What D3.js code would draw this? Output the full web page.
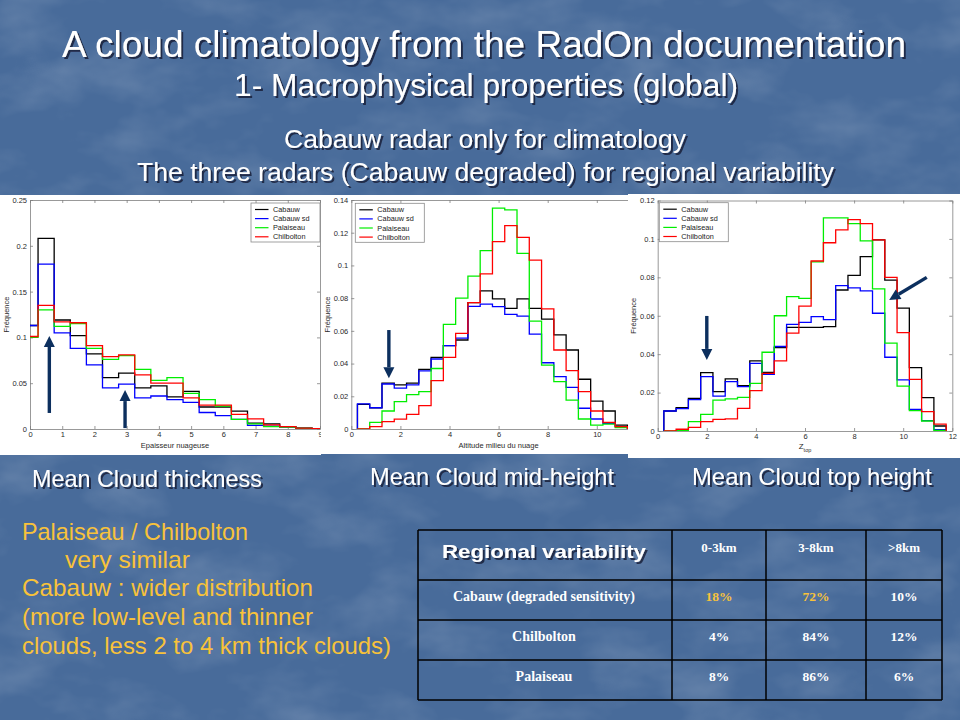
<!DOCTYPE html>
<html><head><meta charset="utf-8">
<script src="https://d3js.org/d3.v7.min.js"></script>
<style>html,body{margin:0;padding:0;background:#496b99;overflow:hidden}svg{display:block}</style>
</head><body>
<svg id="slide" width="960" height="720"></svg>
<script>
// ---------------- DATA ----------------
const seriesNames = ["Cabauw", "Cabauw sd", "Palaiseau", "Chilbolton"];
const seriesColors = ["#000000", "#0000ff", "#00ee00", "#ff0000"];

// Panel 1 : cloud thickness
const thicknessBins = [0, 0.5, 1, 1.5, 2, 2.5, 3, 3.5, 4, 4.5, 5, 5.5, 6, 6.5, 7, 7.5, 8, 8.5, 9];
const thicknessCabauw   = [0.113, 0.208, 0.119, 0.102, 0.082, 0.056, 0.061, 0.045, 0.047, 0.035, 0.041, 0.024, 0.024, 0.0196, 0.0065, 0.0055, 0.0025, 0.001, 0.0005];
const thicknessCabauwSd = [0.113, 0.180, 0.105, 0.088, 0.070, 0.045, 0.049, 0.034, 0.036, 0.032, 0.029, 0.018, 0.0146, 0.0106, 0.004, 0.003, 0.002, 0.001, 0.0005];
const thicknessPalaiseau= [0.100, 0.130, 0.112, 0.115, 0.088, 0.076, 0.080, 0.065, 0.053, 0.056, 0.039, 0.032, 0.025, 0.0106, 0.0055, 0.0025, 0.002, 0.001, 0.0005];
const thicknessChilbolton=[0.101, 0.135, 0.117, 0.116, 0.091, 0.079, 0.081, 0.059, 0.050, 0.050, 0.034, 0.026, 0.026, 0.016, 0.011, 0.0045, 0.0025, 0.001, 0.0005];
const thicknessXTicks = [0, 1, 2, 3, 4, 5, 6, 7, 8, 9];
const thicknessYTicks = [0, 0.05, 0.1, 0.15, 0.2, 0.25];
const thicknessYLabels = ["0", "0.05", "0.1", "0.15", "0.2", "0.25"];

// Panel 2 : cloud mid-height
const midBins = [0.5, 1, 1.5, 2, 2.5, 3, 3.5, 4, 4.5, 5, 5.5, 6, 6.5, 7, 7.5, 8, 8.5, 9, 9.5, 10, 10.5, 11];
const midCabauw    = [0.015, 0.013, 0.028, 0.027, 0.028, 0.0365, 0.0438, 0.051, 0.0544, 0.0772, 0.0844, 0.0795, 0.0738, 0.0795, 0.0738, 0.0672, 0.0575, 0.0483, 0.0304, 0.0171, 0.011, 0.0024];
const midCabauwSd  = [0.0153, 0.013, 0.0275, 0.025, 0.027, 0.0355, 0.0428, 0.051, 0.0555, 0.075, 0.0764, 0.0748, 0.0701, 0.069, 0.058, 0.0405, 0.032, 0.0255, 0.0127, 0.0061, 0.0035, 0.0015];
const midPalaiseau = [0, 0.0041, 0.011, 0.0167, 0.021, 0.0228, 0.037, 0.064, 0.080, 0.0935, 0.109, 0.135, 0.134, 0.1074, 0.066, 0.039, 0.029, 0.0177, 0.0061, 0.0024, 0.003, 0.0008];
const midChilbolton= [0, 0.0014, 0.0045, 0.006, 0.009, 0.0143, 0.0296, 0.0438, 0.0585, 0.0773, 0.0948, 0.1145, 0.1243, 0.1172, 0.1033, 0.0734, 0.0483, 0.0357, 0.0228, 0.011, 0.0041, 0.0014];
const midXTicks = [0, 2, 4, 6, 8, 10, 12];
const midYTicks = [0, 0.02, 0.04, 0.06, 0.08, 0.1, 0.12, 0.14];
const midYLabels = ["0", "0.02", "0.04", "0.06", "0.08", "0.1", "0.12", "0.14"];

// Panel 3 : cloud top height
const topBins = [0.5, 1, 1.5, 2, 2.5, 3, 3.5, 4, 4.5, 5, 5.5, 6, 6.5, 7, 7.5, 8, 8.5, 9, 9.5, 10, 10.5, 11, 11.5];
const topCabauw    = [0.0104, 0.0121, 0.017, 0.0304, 0.0205, 0.0271, 0.0236, 0.0365, 0.0305, 0.0434, 0.054, 0.054, 0.054, 0.0543, 0.0734, 0.081, 0.0908, 0.0995, 0.0785, 0.064, 0.033, 0.0174, 0.0026];
const topCabauwSd  = [0.0104, 0.0116, 0.0163, 0.0283, 0.0182, 0.0257, 0.0231, 0.0352, 0.0295, 0.044, 0.0555, 0.0565, 0.0595, 0.058, 0.0757, 0.0745, 0.073, 0.0613, 0.0384, 0.0266, 0.0113, 0.0054, 0.0007];
const topPalaiseau = [0, 0.0002, 0.0049, 0.0087, 0.0161, 0.0167, 0.0175, 0.0248, 0.041, 0.060, 0.070, 0.069, 0.088, 0.111, 0.111, 0.108, 0.099, 0.074, 0.0457, 0.0234, 0.0106, 0.0052, 0.0003];
const topChilbolton= [0, 0.0009, 0.0019, 0.0049, 0.0061, 0.0063, 0.0118, 0.021, 0.030, 0.0365, 0.051, 0.065, 0.0885, 0.098, 0.1047, 0.110, 0.108, 0.0995, 0.080, 0.0512, 0.0269, 0.0101, 0.0036];
const topXTicks = [0, 2, 4, 6, 8, 10, 12];
const topYTicks = [0, 0.02, 0.04, 0.06, 0.08, 0.1, 0.12];
const topYLabels = ["0", "0.02", "0.04", "0.06", "0.08", "0.1", "0.12"];

// Table
const tableHeader = ["Regional variability", "0-3km", "3-8km", ">8km"];
const tableRowNames = ["Cabauw (degraded sensitivity)", "Chilbolton", "Palaiseau"];
const tableLow  = ["18%", "4%", "8%"];
const tableMid  = ["72%", "84%", "86%"];
const tableHigh = ["10%", "12%", "6%"];

// ---------------- DRAW ----------------
const svg = d3.select("#slide");
const defs = svg.append("defs");

// background texture
const f = defs.append("filter").attr("id", "tex").attr("x", 0).attr("y", 0).attr("width", "100%").attr("height", "100%");
f.append("feTurbulence").attr("type", "fractalNoise").attr("baseFrequency", "0.012 0.02").attr("numOctaves", 4).attr("seed", 11).attr("result", "n");
f.append("feColorMatrix").attr("in", "n").attr("type", "matrix")
  .attr("values", "0 0 0 0 1  0 0 0 0 1  0 0 0 0 1  1.4 0 0 0 -0.62");
svg.append("rect").attr("width", 960).attr("height", 720).attr("fill", "#486b9a");
svg.append("rect").attr("width", 960).attr("height", 720).attr("filter", "url(#tex)").attr("opacity", 0.22);

const shadow = defs.append("filter").attr("id", "sh").attr("x", "-5%").attr("y", "-20%").attr("width", "110%").attr("height", "140%");
shadow.append("feDropShadow").attr("dx", 2).attr("dy", 2).attr("stdDeviation", 0.6).attr("flood-color", "#14233a").attr("flood-opacity", 0.85);

function slideText(txt, x, y, size, opts = {}) {
  const t = svg.append("text").attr("x", x).attr("y", y)
    .attr("font-family", opts.family || "'Liberation Sans', Arial, sans-serif")
    .attr("font-size", size).attr("fill", opts.fill || "#ffffff")
    .attr("font-weight", opts.weight || "normal")
    .attr("text-anchor", opts.anchor || "start").text(txt);
  if (opts.len) t.attr("textLength", opts.len).attr("lengthAdjust", "spacingAndGlyphs");
  if (opts.shadow) t.attr("filter", "url(#sh)");
  return t;
}

slideText("A cloud climatology from the RadOn documentation", 484, 57, 36, {anchor: "middle", len: 844, shadow: true});
slideText("1- Macrophysical properties (global)", 486, 96, 31, {anchor: "middle", len: 504, shadow: true});
slideText("Cabauw radar only for climatology", 485, 148, 26.5, {anchor: "middle", len: 402, shadow: true});
slideText("The three radars (Cabauw degraded) for regional variability", 485.5, 181, 26.5, {anchor: "middle", len: 697, shadow: true});

// panels
const series = [
  [thicknessCabauw, thicknessCabauwSd, thicknessPalaiseau, thicknessChilbolton],
  [midCabauw, midCabauwSd, midPalaiseau, midChilbolton],
  [topCabauw, topCabauwSd, topPalaiseau, topChilbolton]
];
const panels = [
  {bg: [0, 195, 321, 260], xr: [30, 320], yr: [429, 200], xd: [0, 9], yd: [0, 0.25], bins: thicknessBins,
   xt: thicknessXTicks, yt: thicknessYTicks, yl: thicknessYLabels, xlabel: "Epaisseur nuageuse", ylabX: 9,
   legend: [251, 203], arrows: [[0.6, 0.0175, 0.6, 0.1015], [2.95, 0.001, 2.95, 0.0425]]},
  {bg: [321, 195, 307, 259], xr: [351.3, 645.9], yr: [429, 200], xd: [0, 12], yd: [0, 0.14], bins: midBins,
   xt: midXTicks, yt: midYTicks, yl: midYLabels, xlabel: "Altitude milieu du nuage", ylabX: 330,
   legend: [355.3, 203.3], arrows: [[1.53, 0.0605, 1.53, 0.031]]},
  {bg: [628, 194, 332, 264], xr: [657.7, 952.3], yr: [431, 200.5], xd: [0, 12], yd: [0, 0.12], bins: topBins,
   xt: topXTicks, yt: topYTicks, yl: topYLabels, xlabel: null, ylabX: 636,
   legend: [659.3, 202.7], arrows: [[2.0, 0.0599, 2.0, 0.037], [10.96, 0.080, 9.43, 0.0682]]}
];

const tickFont = "'Liberation Sans', Arial, Helvetica, sans-serif";

panels.forEach((p, pi) => {
  const g = svg.append("g");
  const cid = "clipbg" + pi;
  defs.append("clipPath").attr("id", cid).append("rect")
    .attr("x", p.bg[0]).attr("y", p.bg[1]).attr("width", p.bg[2]).attr("height", p.bg[3]);
  g.attr("clip-path", `url(#${cid})`);
  g.append("rect").attr("x", p.bg[0]).attr("y", p.bg[1]).attr("width", p.bg[2]).attr("height", p.bg[3]).attr("fill", "#ffffff");

  const x = d3.scaleLinear().domain(p.xd).range(p.xr);
  const y = d3.scaleLinear().domain(p.yd).range(p.yr);

  const pid = "clipplot" + pi;
  defs.append("clipPath").attr("id", pid).append("rect")
    .attr("x", p.xr[0]).attr("y", p.yr[1]).attr("width", p.xr[1] - p.xr[0]).attr("height", p.yr[0] - p.yr[1]);

  // axes
  const axColor = "#7f7f7f";
  const styleAxis = sel => {
    sel.selectAll("path,line").attr("stroke", axColor).attr("stroke-width", 0.8);
    sel.selectAll("text").attr("fill", "#2a2a2a").attr("font-family", tickFont).attr("font-size", 7.5);
  };
  g.append("g").attr("transform", `translate(0,${p.yr[0]})`)
    .call(d3.axisBottom(x).tickValues(p.xt).tickFormat(d3.format("d")).tickSizeInner(-3).tickSizeOuter(0).tickPadding(3)).call(styleAxis);
  g.append("g").attr("transform", `translate(0,${p.yr[1]})`)
    .call(d3.axisTop(x).tickValues(p.xt).tickFormat("").tickSizeInner(-3).tickSizeOuter(0)).call(styleAxis);
  g.append("g").attr("transform", `translate(${p.xr[0]},0)`)
    .call(d3.axisLeft(y).tickValues(p.yt).tickFormat((d, i) => p.yl[i]).tickSizeInner(-3).tickSizeOuter(0).tickPadding(3)).call(styleAxis);
  g.append("g").attr("transform", `translate(${p.xr[1]},0)`)
    .call(d3.axisRight(y).tickValues(p.yt).tickFormat("").tickSizeInner(-3).tickSizeOuter(0)).call(styleAxis);

  // step histograms
  const hw = 0.25;
  const line = d3.line().x(d => x(d[0])).y(d => y(d[1]));
  const pg = g.append("g").attr("clip-path", `url(#${pid})`);
  series[pi].forEach((vals, si) => {
    const pts = [[p.bins[0] - hw, 0]];
    p.bins.forEach((c, i) => { pts.push([c - hw, vals[i]]); pts.push([c + hw, vals[i]]); });
    pts.push([p.bins[p.bins.length - 1] + hw, 0]);
    pg.append("path").attr("d", line(pts)).attr("fill", "none")
      .attr("stroke", seriesColors[si]).attr("stroke-width", 1.3).attr("stroke-linejoin", "miter");
  });

  // y label
  const yc = (p.yr[0] + p.yr[1]) / 2;
  g.append("text").attr("transform", `translate(${p.ylabX},${yc}) rotate(-90)`)
    .attr("text-anchor", "middle").attr("font-family", tickFont).attr("font-size", 7.5).attr("fill", "#2a2a2a").text("Fréquence");
  // x label
  const xc = (p.xr[0] + p.xr[1]) / 2;
  if (p.xlabel) {
    g.append("text").attr("x", xc).attr("y", p.yr[0] + 19).attr("text-anchor", "middle")
      .attr("font-family", tickFont).attr("font-size", 7.5).attr("fill", "#2a2a2a").text(p.xlabel);
  } else {
    const t = g.append("text").attr("x", xc).attr("y", p.yr[0] + 18).attr("text-anchor", "middle")
      .attr("font-family", tickFont).attr("font-size", 8).attr("fill", "#2a2a2a");
    t.append("tspan").text("Z");
    t.append("tspan").attr("font-size", 5.5).attr("dy", 2.5).text("top");
  }

  // legend
  const [lx, ly] = p.legend;
  const lg = g.append("g").attr("transform", `translate(${lx},${ly})`);
  lg.append("rect").attr("width", 69).attr("height", 39).attr("fill", "#ffffff").attr("stroke", "#8a8a8a").attr("stroke-width", 0.8);
  seriesNames.forEach((n, i) => {
    const yy = 6.5 + i * 9.1;
    lg.append("line").attr("x1", 4).attr("x2", 17.5).attr("y1", yy).attr("y2", yy).attr("stroke", seriesColors[i]).attr("stroke-width", 1.2);
    lg.append("text").attr("x", 22).attr("y", yy + 2.6).attr("font-family", tickFont).attr("font-size", 7.3).attr("fill", "#222").text(n);
  });

  // arrows
  p.arrows.forEach(a => {
    const x1 = x(a[0]), y1 = y(a[1]), x2 = x(a[2]), y2 = y(a[3]);
    const ang = Math.atan2(y2 - y1, x2 - x1);
    const L = 11, Wd = 5.5;
    const bx = x2 - L * Math.cos(ang), by = y2 - L * Math.sin(ang);
    g.append("line").attr("x1", x1).attr("y1", y1).attr("x2", bx).attr("y2", by)
      .attr("stroke", "#0c2f5e").attr("stroke-width", 3.4);
    const px = -Math.sin(ang) * Wd, py = Math.cos(ang) * Wd;
    g.append("path").attr("d", `M${x2},${y2}L${bx + px},${by + py}L${bx - px},${by - py}Z`).attr("fill", "#0c2f5e");
  });
});

// captions
slideText("Mean Cloud thickness", 32, 487, 23.4, {len: 230, shadow: true});
slideText("Mean Cloud mid-height", 370, 485, 23.4, {len: 244, shadow: true});
slideText("Mean Cloud top height", 692, 485, 23.4, {len: 240, shadow: true});

// yellow notes
const yellow = "#f8c23a";
slideText("Palaiseau / Chilbolton", 22, 540, 23.4, {fill: yellow, len: 226});
slideText("very similar", 65, 568, 23.4, {fill: yellow, len: 125});
slideText("Cabauw : wider distribution", 22, 596, 23.4, {fill: yellow, len: 291});
slideText("(more low-level and thinner", 22, 625, 23.4, {fill: yellow, len: 291});
slideText("clouds, less 2 to 4 km thick clouds)", 22, 654, 23.4, {fill: yellow, len: 369});

// table
const colX = [418, 672, 766, 866, 942];
const rowY = [530, 580, 620, 660, 700];
const tg = svg.append("g");
rowY.forEach(yv => tg.append("line").attr("x1", colX[0]).attr("x2", colX[4]).attr("y1", yv).attr("y2", yv).attr("stroke", "#000").attr("stroke-width", 1.5));
colX.forEach(xv => tg.append("line").attr("x1", xv).attr("x2", xv).attr("y1", rowY[0]).attr("y2", rowY[4]).attr("stroke", "#000").attr("stroke-width", 1.5));
const colC = [544, 719, 816, 904];
const serif = "'Liberation Serif', 'Times New Roman', serif";
slideText(tableHeader[0], colC[0], 558, 19, {anchor: "middle", weight: "bold", len: 204, shadow: true});
[1, 2, 3].forEach(i => slideText(tableHeader[i], colC[i], 552, 13, {anchor: "middle", weight: "bold", family: serif}));
tableRowNames.forEach((n, r) => {
  const yb = 601 + r * 40;
  slideText(n, colC[0], yb, 14, {anchor: "middle", weight: "bold", family: serif});
  slideText(tableLow[r], colC[1], yb, 13.5, {anchor: "middle", weight: "bold", family: serif, fill: r === 0 ? yellow : "#fff"});
  slideText(tableMid[r], colC[2], yb, 13.5, {anchor: "middle", weight: "bold", family: serif, fill: r === 0 ? yellow : "#fff"});
  slideText(tableHigh[r], colC[3], yb, 13.5, {anchor: "middle", weight: "bold", family: serif});
});
</script>
</body></html>
